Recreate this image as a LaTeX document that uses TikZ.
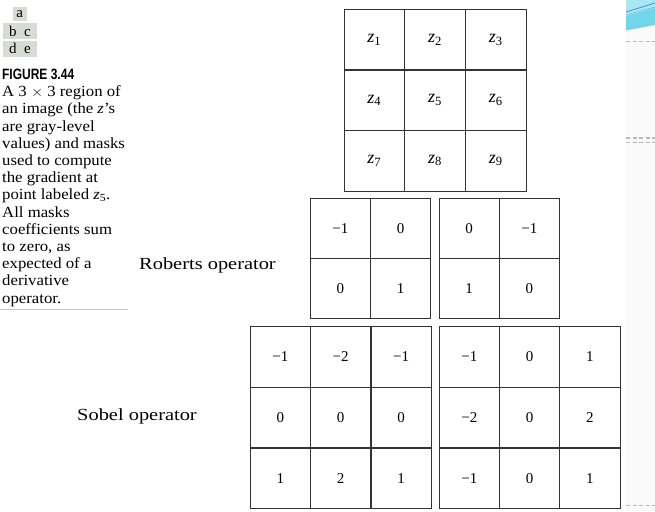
\documentclass[tikz,border=0pt]{standalone}
\usepackage{fontspec}
\setmainfont{Liberation Serif}
\setsansfont{Liberation Sans}
\definecolor{panelgray}{RGB}{214,219,212}
\definecolor{slidecyan}{RGB}{112,214,234}
\definecolor{slideblue}{RGB}{60,150,210}
\tikzset{
  cell/.style={draw=black!80, line width=0.8pt, inner sep=0pt,
    minimum width=#1, minimum height=#1, font=\fontsize{15}{15}\selectfont},
  cell/.default=60.5pt,
  oplabel/.style={font=\fontsize{17}{17}\selectfont, inner sep=0pt, anchor=base west, xscale=1.2},
  panel/.style={fill=panelgray, inner sep=0pt, font=\fontsize{15}{15}\selectfont},
  slidedash/.style={gray!55, line width=1.2pt, dash pattern=on 4pt off 2.5pt},
}
\begin{document}
\begin{tikzpicture}[x=1pt,y=-1pt]
\useasboundingbox (0,0) rectangle (655,511);

% slide decoration on the right
\fill[gray!4] (626,0) rectangle (655,511);
\fill[slidecyan] (626,0) -- (655,0) -- (655,25) -- (626,30.5) -- cycle;
\fill[slidecyan!60!white] (626,0) -- (655,0) -- (655,8) -- (626,16) -- cycle;
\draw[slideblue, line width=0.8pt] (626,12) -- (655,3);
\draw[slideblue!70, line width=0.6pt] (626,15) -- (655,7);
\draw[slidedash] (626,41.7) -- (655,41.7);
\draw[slidedash] (626,138) -- (655,138);
\draw[slidedash] (626,142.7) -- (655,142.7);
\draw[slidedash] (626,505.7) -- (655,505.7);

% panel letters
\node[panel, minimum width=14pt, minimum height=14pt] (pa) at (19.7,14) {a};
\node[panel, minimum width=33.4pt, minimum height=16.5pt] (pbc) at (20,31) {b\enspace c};
\node[panel, minimum width=33.4pt, minimum height=16pt] (pde) at (20,48.7) {d\enspace e};

% caption
\node[anchor=base west, inner sep=0pt, font=\sffamily\bfseries\fontsize{15}{15}\selectfont, xscale=0.8] (fig) at (2,79.5) {FIGURE 3.44};
\node[anchor=north west, inner sep=0pt, align=left, xscale=1.08,
  font=\fontsize{15.5}{17.2}\selectfont] (caption) at (2,85.5) {%
A 3 $\times$ 3 region of\\
an image (the \textit{z}'s\\
are gray-level\\
values) and masks\\
used to compute\\
the gradient at\\
point labeled \textit{z}\textsubscript{5}.\\
All masks\\
coefficients sum\\
to zero, as\\
expected of a\\
derivative\\
operator.};
\draw[gray!45, line width=1.2pt] (0,309.5) -- (128,309.5);

% 3x3 image region
\foreach \k in {1,...,9}{
  \pgfmathsetmacro\cx{374.3+60.7*mod(\k-1,3)}
  \pgfmathsetmacro\cy{39.8+60.4*int((\k-1)/3)}
  \node[cell=60.7pt, font=\fontsize{18}{18}\selectfont] (z\k) at (\cx,\cy) {\textit{z}\textsubscript{\k}};
}

% Roberts masks
\foreach \t [count=\k from 0] in {−1,0,0,1}{
  \pgfmathsetmacro\cx{340.3+60.3*mod(\k,2)}
  \pgfmathsetmacro\cy{228.3+60*int(\k/2)}
  \node[cell=60.3pt] (ra\k) at (\cx,\cy) {\t};
}
\foreach \t [count=\k from 0] in {0,−1,1,0}{
  \pgfmathsetmacro\cx{469.2+60.1*mod(\k,2)}
  \pgfmathsetmacro\cy{228.3+60*int(\k/2)}
  \node[cell=60.3pt] (rb\k) at (\cx,\cy) {\t};
}
\node[oplabel] (roberts) at (139,269) {Roberts operator};

% Sobel masks
\foreach \t [count=\k from 0] in {−1,−2,−1,0,0,0,1,2,1}{
  \pgfmathsetmacro\cx{280.3+60.4*mod(\k,3)}
  \pgfmathsetmacro\cy{357+60.6*int(\k/3)}
  \node[cell] (sa\k) at (\cx,\cy) {\t};
}
\foreach \t [count=\k from 0] in {−1,0,1,−2,0,2,−1,0,1}{
  \pgfmathsetmacro\cx{469.3+60.3*mod(\k,3)}
  \pgfmathsetmacro\cy{357+60.6*int(\k/3)}
  \node[cell] (sb\k) at (\cx,\cy) {\t};
}
\node[oplabel] (sobel) at (77,420) {Sobel operator};
\end{tikzpicture}
\end{document}
